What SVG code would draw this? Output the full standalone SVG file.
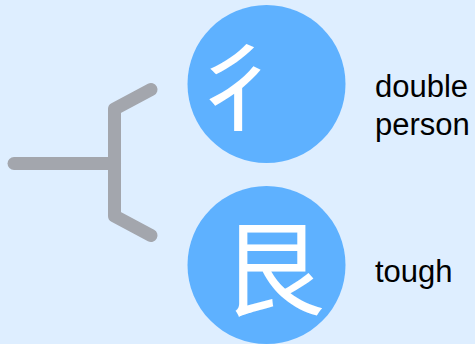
<svg xmlns="http://www.w3.org/2000/svg" width="475" height="344" viewBox="0 0 475 344">
<style>
.conn{fill:none;stroke:#a3a6ad;stroke-width:13;stroke-linecap:round;stroke-linejoin:round}
.circ{fill:#5eb1ff}
.glyph{fill:#ffffff;font-family:"Noto Sans CJK SC","Noto Sans CJK JP",sans-serif;text-anchor:middle}
.lbl{fill:#000000;font-family:"Liberation Sans",Arial,sans-serif;font-size:31px}
</style>
<rect width="475" height="344" fill="#deeeff"/>
<g id="connectors">
<path class="conn" d="M14,163.5 L114.5,163.5"/>
<path class="conn" d="M151,89.5 L114.5,109 L114.5,216 L151,235.5"/>
</g>
<g id="node-person">
<circle class="circ" cx="266.5" cy="84" r="79"/>
<text class="glyph" x="238" y="123" font-size="98">彳</text>
<text class="lbl" x="375" y="97">double</text>
<text class="lbl" x="375" y="135">person</text>
</g>
<g id="node-tough">
<circle class="circ" cx="266.5" cy="265" r="79"/>
<text class="glyph" x="273" y="308" font-size="104">艮</text>
<text class="lbl" x="375" y="282">tough</text>
</g>
</svg>
